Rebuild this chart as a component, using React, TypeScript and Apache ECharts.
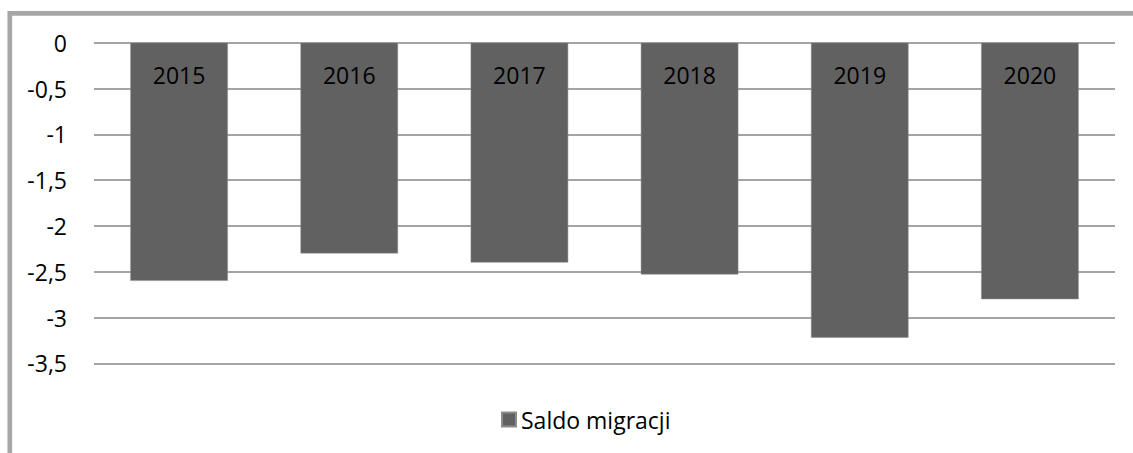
import React, { useEffect, useRef } from "react";
import * as echarts from "echarts";

const categories = ["2015", "2016", "2017", "2018", "2019", "2020"];
const saldoMigracji = [-2.6, -2.3, -2.4, -2.53, -3.22, -2.8];
const seriesName = "Saldo migracji";

const FONT = "'Open Sans', 'Noto Sans', sans-serif";

export default function App() {
  const ref = useRef<HTMLDivElement>(null);
  useEffect(() => {
    if (!ref.current) return;
    const chart = echarts.init(ref.current, undefined, { renderer: "svg" });
    chart.setOption({
      animation: false,
      backgroundColor: "#ffffff",
      textStyle: { fontFamily: FONT },
      grid: { left: 94, right: 18, top: 42.7, bottom: 89.7, containLabel: false },
      legend: {
        data: [{ name: seriesName, icon: "rect" }],
        left: 496,
        top: 403,
        itemWidth: 14,
        itemHeight: 14,
        textStyle: { fontSize: 23, color: "#000", fontFamily: FONT },
      },
      xAxis: {
        type: "category",
        data: categories,
        position: "top",
        z: 10,
        axisLine: { show: false },
        axisTick: { show: false },
        axisLabel: {
          inside: true,
          margin: 21,
          fontSize: 23,
          color: "#000",
          fontFamily: FONT,
        },
      },
      yAxis: {
        type: "value",
        min: -3.5,
        max: 0,
        interval: 0.5,
        axisLine: { show: false },
        axisTick: { show: false },
        splitLine: { lineStyle: { color: "#868686", width: 1.5 } },
        axisLabel: {
          margin: 27,
          fontSize: 23,
          color: "#000",
          fontFamily: FONT,
          formatter: (v: number) => String(v).replace(".", ","),
        },
      },
      series: [
        {
          name: seriesName,
          type: "bar",
          data: saldoMigracji,
          barWidth: 97.5,
          itemStyle: { color: "#616161", borderColor: "#8c8c8c", borderWidth: 0.5 },
        },
      ],
      graphic: [
        {
          type: "rect",
          silent: true,
          shape: { x: 9.8, y: 13.3, width: 1300, height: 1000 },
          style: { fill: "none", stroke: "#a6a6a6", lineWidth: 4.7 },
        },
      ],
    });
    return () => chart.dispose();
  }, []);
  return (
    <div
      ref={ref}
      style={{ position: "fixed", left: 0, top: 0, width: 1133, height: 453 }}
    />
  );
}
